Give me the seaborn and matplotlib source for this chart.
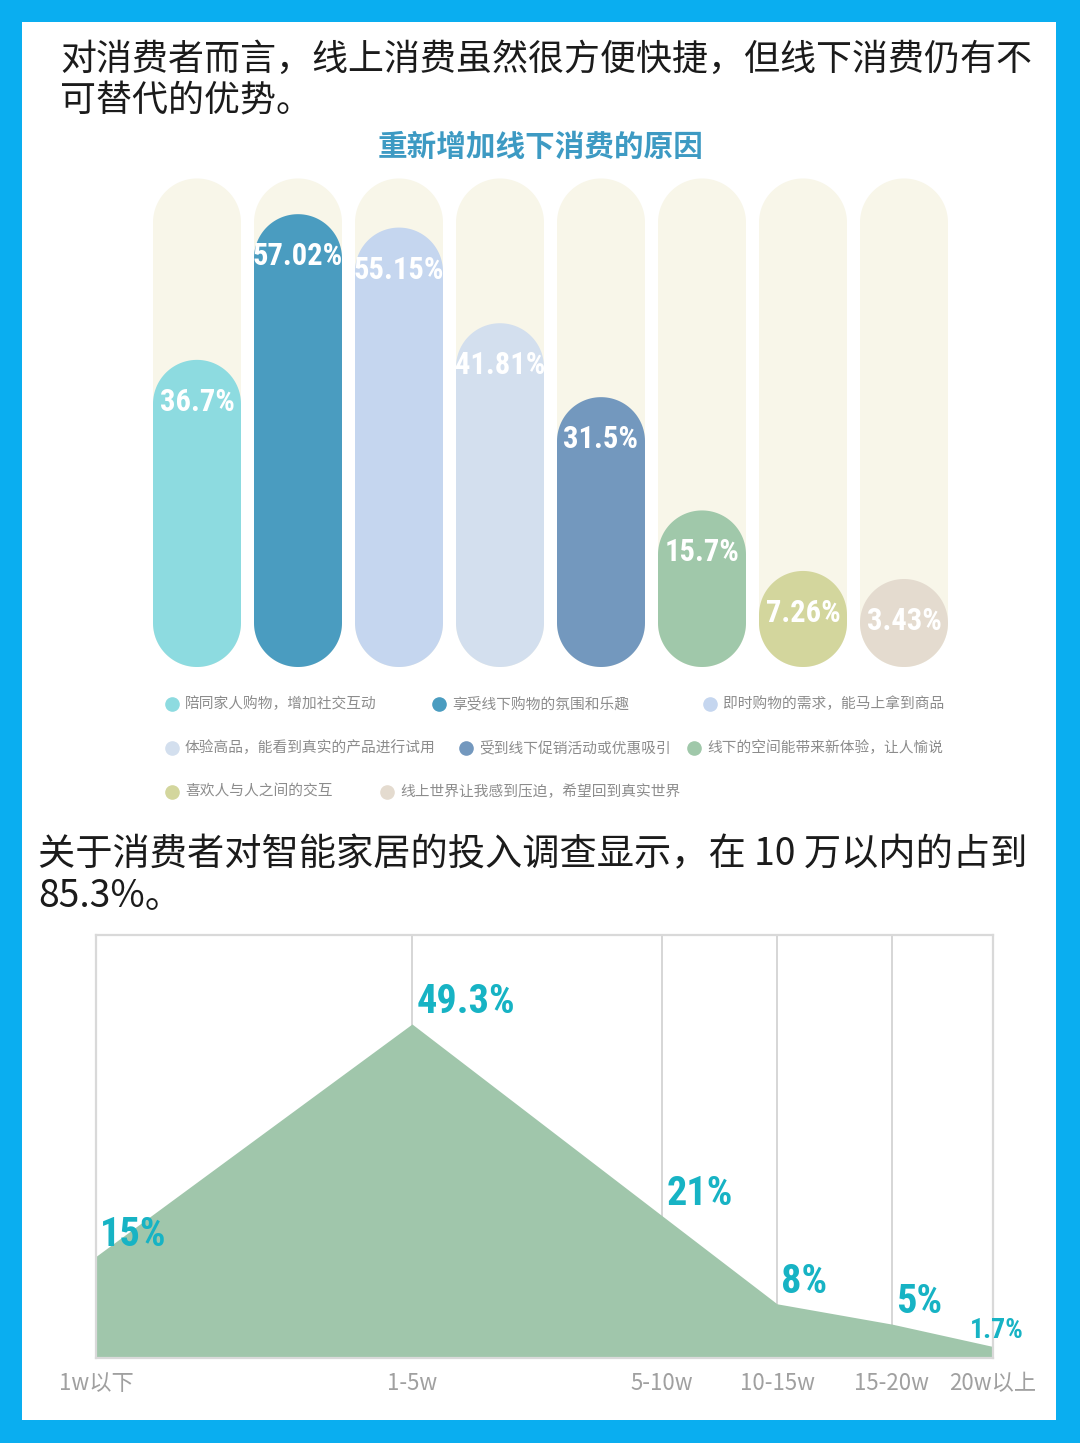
import numpy as np
import pandas as pd
import matplotlib
matplotlib.use("Agg")
import matplotlib.pyplot as plt
from matplotlib import font_manager
from matplotlib.patches import Polygon, Rectangle
from matplotlib.lines import Line2D
import seaborn as sns

# ---- data: top chart (reasons for going back to offline shopping) ----
reasons = [
    "陪同家人购物，增加社交互动",
    "享受线下购物的氛围和乐趣",
    "即时购物的需求，能马上拿到商品",
    "体验高品，能看到真实的产品进行试用",
    "受到线下促销活动或优惠吸引",
    "线下的空间能带来新体验，让人愉说",
    "喜欢人与人之间的交互",
    "线上世界让我感到压迫，希望回到真实世界",
]
reason_pct = [36.7, 57.02, 55.15, 41.81, 31.5, 15.7, 7.26, 3.43]
reason_labels = ["36.7%", "57.02%", "55.15%", "41.81%", "31.5%", "15.7%", "7.26%", "3.43%"]
reason_colors = ["#8DDBE0", "#4A9CC0", "#C5D6EF", "#D3DFEE",
                 "#7398BE", "#A0C8AA", "#D3D69D", "#E4DBCF"]
track_max = 62

# ---- data: bottom chart (smart home budget) ----
budget_bins = ["1w以下", "1-5w", "5-10w", "10-15w", "15-20w", "20w以上"]
budget_pct = [15, 49.3, 21, 8, 5, 1.7]
budget_labels = ["15%", "49.3%", "21%", "8%", "5%", "1.7%"]
budget_x = [0, 316, 566, 681, 796, 897]   # uneven category spacing as drawn

W, H = 1080, 1443
sns.set_theme(style="white")
plt.rcParams["font.family"] = ["Noto Sans CJK SC", "DejaVu Sans"]

available = {f.name for f in font_manager.fontManager.ttflist}
num_font = "DejaVu Sans"
num_scale = 0.72
for cand in ["Liberation Sans Narrow", "Roboto Condensed", "DejaVu Sans Condensed"]:
    if cand in available:
        num_font, num_scale = cand, 1.0
        break


def fx(px):
    return px / W


def fy(py):
    return 1 - py / H


fig = plt.figure(figsize=(W / 100, H / 100), dpi=100)
fig.patch.set_facecolor("#0AAEF0")
fig.add_artist(Rectangle((fx(22), fy(1420)), fx(1056) - fx(22), fy(22) - fy(1420),
                         transform=fig.transFigure, facecolor="white", edgecolor="none", zorder=0))

# ---- titles ----
fig.text(fx(60), fy(60), "对消费者而言，线上消费虽然很方便快捷，但线下消费仍有不",
         fontsize=25.9, color="#1b1b1b", va="center", ha="left")
fig.text(fx(60), fy(101), "可替代的优势。", fontsize=25.9, color="#1b1b1b", va="center", ha="left")
fig.text(fx(541), fy(147), "重新增加线下消费的原因", fontsize=21.3, color="#3D9AC3",
         fontweight="bold", va="center", ha="center")

# ---- top chart: pill bars ----
ax1 = fig.add_axes([fx(146.5), fy(670), 808 / W, (670 - 175) / H])
px_per_y = 7.17
ax1.set_xlim(-0.5, len(reasons) - 0.5)
ax1.set_ylim(-(670 - 623) / px_per_y, (623 - 175) / px_per_y)

df = pd.DataFrame({"reason": reasons, "pct": reason_pct})
bar_w = 88 / 101
sns.barplot(data=df, x="reason", y="pct", hue="reason", palette=reason_colors,
            width=bar_w, saturation=1, legend=False, ax=ax1)

r_x = bar_w / 2
r_y = 44 / px_per_y


def pill(ax, cx, top, color, z):
    bottom = -r_y
    top = max(top, bottom + 2 * r_y)
    t = np.linspace(0, np.pi, 60)
    upper = np.column_stack([cx + r_x * np.cos(t), top - r_y + r_y * np.sin(t)])
    lower = np.column_stack([cx - r_x * np.cos(t), bottom + r_y - r_y * np.sin(t)])
    ax.add_patch(Polygon(np.vstack([upper, lower]), closed=True, facecolor=color,
                         edgecolor="none", zorder=z))


for p, color in zip(list(ax1.patches), reason_colors):
    cx = p.get_x() + p.get_width() / 2
    top = p.get_height()
    p.remove()
    pill(ax1, cx, track_max, "#F8F6E9", 1)
    pill(ax1, cx, top, color, 2)

for i, (v, lab) in enumerate(zip(reason_pct, reason_labels)):
    ax1.text(i, max(v, -r_y + 2 * r_y) - 42 / px_per_y, lab, ha="center", va="center",
             color="white", fontsize=22 * num_scale, fontweight="bold",
             family=num_font, zorder=3)
ax1.axis("off")

# ---- legend (flowing rows as in the original) ----
legend_pos = [(172, 704), (439, 704), (710, 704),
              (172, 748), (466, 748), (694, 748),
              (172, 792), (387, 792)]
for (lx, ly), name, color in zip(legend_pos, reasons, reason_colors):
    fig.add_artist(Line2D([fx(lx)], [fy(ly)], marker="o", markersize=9.5, color=color,
                          linestyle="none", transform=fig.transFigure))
    fig.text(fx(lx + 13), fy(ly), name, fontsize=10.6, color="#8c8c8c", va="center", ha="left")

# ---- second title ----
fig.text(fx(38), fy(855), "关于消费者对智能家居的投入调查显示，在 10 万以内的占到",
         fontsize=26.8, color="#1b1b1b", va="center", ha="left")
fig.text(fx(38), fy(897), "85.3%。", fontsize=26.8, color="#1b1b1b", va="center", ha="left")

# ---- bottom chart: area ----
green = "#A0C6AB"
teal = "#17B3C4"
ax2 = fig.add_axes([fx(96), fy(1358), (993 - 96) / W, (1358 - 935) / H])
sns.lineplot(x=budget_x, y=budget_pct, ax=ax2, color=green, linewidth=0)
ax2.fill_between(budget_x, budget_pct, 0, color=green, linewidth=0, zorder=2)
ax2.set_xlim(budget_x[0], budget_x[-1])
ax2.set_ylim(0, (1358 - 935) / 6.775)
for x in budget_x[1:-1]:
    ax2.axvline(x, color="#cfcfcf", linewidth=1.2, zorder=1)
for s in ax2.spines.values():
    s.set_visible(True)
    s.set_color("#d9d9d9")
    s.set_linewidth(1.6)
ax2.set_yticks([])
ax2.set_xticks(budget_x)
ax2.set_xticklabels(budget_bins, color="#a0a0a0", fontsize=16, fontweight="light")
ax2.tick_params(axis="x", length=0, pad=10)

last = len(budget_x) - 1
for i, (x, v, lab) in enumerate(zip(budget_x, budget_pct, budget_labels)):
    size = 20 if i == last else 29
    dx = -17 if i == last else 3
    ax2.annotate(lab, (x, v), xytext=(dx, 2), textcoords="offset points",
                 ha="left", va="bottom", color=teal, fontsize=size * num_scale,
                 fontweight="bold", family=num_font, zorder=4, annotation_clip=False)

fig.savefig("out.png", dpi=100, facecolor=fig.get_facecolor())
